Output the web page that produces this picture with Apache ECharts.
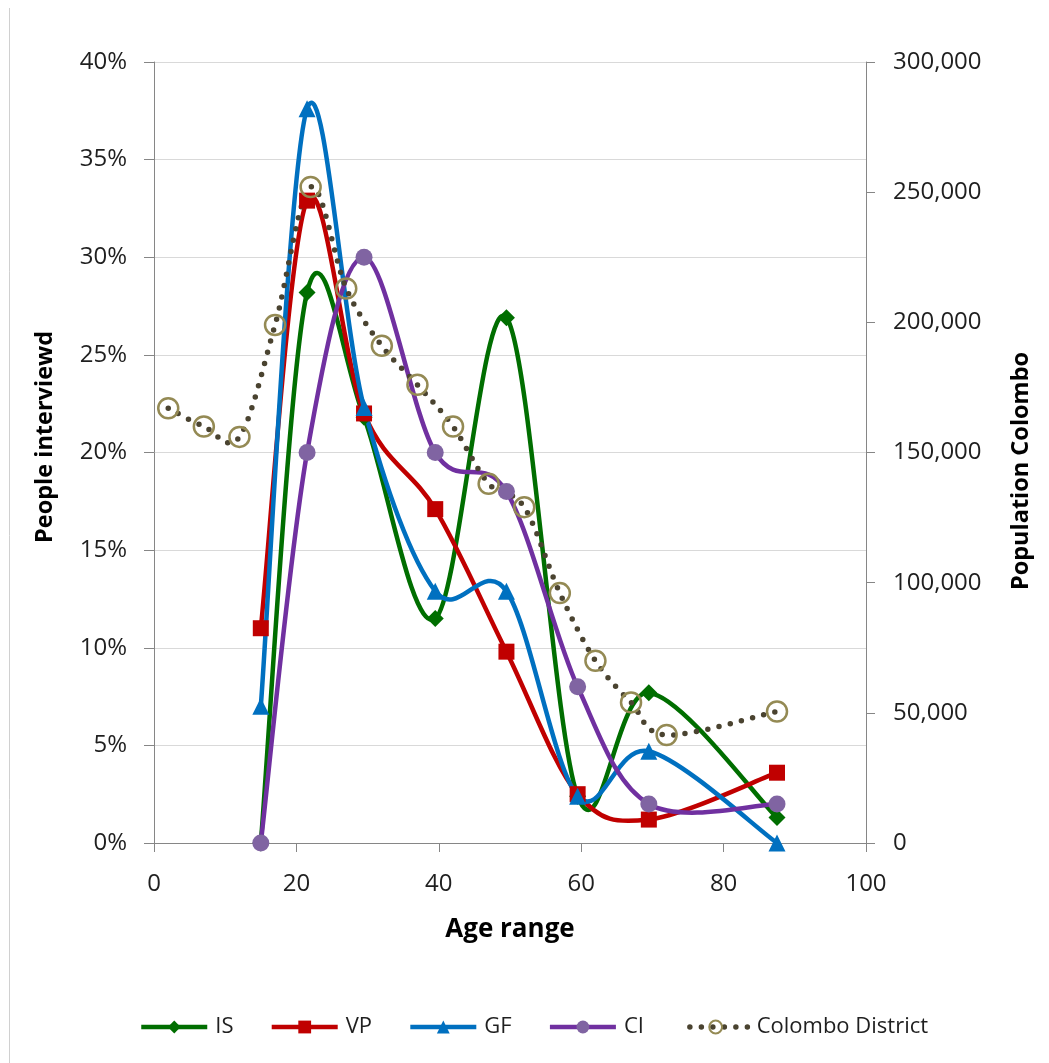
<!DOCTYPE html>
<html>
<head>
<meta charset="utf-8">
<script src="https://cdn.jsdelivr.net/npm/echarts@6/dist/echarts.min.js"></script>
<style>
  html, body { margin: 0; padding: 0; background: #fff; }
  #chart { width: 1049px; height: 1063px; }
</style>
</head>
<body>
<div id="chart"></div>
<script>
// Survey age groups (midpoints) and share of people interviewed, in percent
const surveyAges = [15, 21.5, 29.5, 39.5, 49.5, 59.5, 69.5, 87.5];
const IS = [0, 28.2, 21.8, 11.5, 26.9, 2.4, 7.7, 1.3];
const VP = [11.0, 32.9, 22.0, 17.1, 9.8, 2.5, 1.2, 3.6];
const GF = [7.0, 37.6, 22.3, 12.9, 12.9, 2.4, 4.7, 0];
const CI = [0, 20.0, 30.0, 20.0, 18.0, 8.0, 2.0, 2.0];

// Colombo District population by five-year age band
const districtAges = [2, 7, 12, 17, 22, 27, 32, 37, 42, 47, 52, 57, 62, 67, 72, 87.5];
const colombo = [167000, 160000, 156000, 199000, 252000, 213000, 191000, 176000,
                 160000, 138000, 129000, 96000, 70000, 54000, 41500, 50500];

// Axis tick settings
const xTicks = { min: 0, max: 100, interval: 20 };
const pctTicks = { min: 0, max: 40, interval: 5 };
const popTicks = { min: 0, max: 300000, interval: 50000 };

const FONT = 'Open Sans';
const AXIS_GREY = '#868686';
const LABEL = '#1f1f1f';

function pairs(xs, ys) { return xs.map((x, i) => [x, ys[i]]); }

// Approximate length of a cubic Bezier, used to keep dash phase continuous
function bezierLength(p1, c1, c2, p2) {
  let len = 0, prev = p1;
  for (let k = 1; k <= 24; k++) {
    const t = k / 24, u = 1 - t;
    const x = u*u*u*p1[0] + 3*u*u*t*c1[0] + 3*u*t*t*c2[0] + t*t*t*p2[0];
    const y = u*u*u*p1[1] + 3*u*u*t*c1[1] + 3*u*t*t*c2[1] + t*t*t*p2[1];
    len += Math.hypot(x - prev[0], y - prev[1]);
    prev = [x, y];
  }
  return len;
}

// Smoothed (Catmull-Rom style) curve through the data points, drawn in pixel space
function curveSeries(id, xs, ys, yAxisIndex, lineStyle) {
  return {
    id, type: 'custom', xAxisIndex: 0, yAxisIndex, silent: true,
    data: pairs(xs, ys),
    renderItem(params, api) {
      if (params.dataIndex !== 0) return null;
      const pts = xs.map((x, i) => api.coord([x, ys[i]]));
      const n = pts.length;
      const children = [];
      let offset = 0;
      for (let i = 0; i < n - 1; i++) {
        const p0 = pts[Math.max(i - 1, 0)], p1 = pts[i], p2 = pts[i + 1], p3 = pts[Math.min(i + 2, n - 1)];
        const c1 = [p1[0] + (p2[0] - p0[0]) / 6, p1[1] + (p2[1] - p0[1]) / 6];
        const c2 = [p2[0] - (p3[0] - p1[0]) / 6, p2[1] - (p3[1] - p1[1]) / 6];
        children.push({
          type: 'bezierCurve',
          shape: { x1: p1[0], y1: p1[1], x2: p2[0], y2: p2[1], cpx1: c1[0], cpy1: c1[1], cpx2: c2[0], cpy2: c2[1] },
          style: Object.assign({ fill: 'none', lineDashOffset: offset }, lineStyle)
        });
        offset += bezierLength(p1, c1, c2, p2);
      }
      return { type: 'group', children };
    }
  };
}

// Markers for one series; the connecting curve is drawn by curveSeries
function markerSeries(name, xs, ys, yAxisIndex, lineColor, symbol, size, itemStyle, lineExtra) {
  return {
    name, type: 'line', xAxisIndex: 0, yAxisIndex,
    data: pairs(xs, ys),
    symbol, symbolSize: size, showAllSymbol: true,
    lineStyle: Object.assign({ color: lineColor, width: 0 }, lineExtra || {}),
    itemStyle,
    emphasis: { disabled: true }
  };
}

const solid = (color) => ({ stroke: color, lineWidth: 4.5, lineCap: 'round', lineJoin: 'round' });

const chart = echarts.init(document.getElementById('chart'), null, { renderer: 'canvas' });

chart.setOption({
  animation: false,
  backgroundColor: '#ffffff',
  textStyle: { fontFamily: FONT },
  grid: { left: 154, right: 183, top: 62, bottom: 220, containLabel: false },
  graphic: [{
    type: 'line', silent: true,
    shape: { x1: 9.5, y1: 8, x2: 9.5, y2: 1063 },
    style: { stroke: '#d0d0d0', lineWidth: 1 }
  }, {
    type: 'text', silent: true, x: 45, y: 437, rotation: Math.PI / 2,
    style: { text: 'People interviewd', font: 'bold 23.5px "Open Sans"', fill: '#000', align: 'center', verticalAlign: 'middle' }
  }, {
    type: 'text', silent: true, x: 1021, y: 471, rotation: Math.PI / 2,
    style: { text: 'Population Colombo', font: 'bold 23.5px "Open Sans"', fill: '#000', align: 'center', verticalAlign: 'middle' }
  }],
  legend: {
    bottom: 20, left: 134,
    itemWidth: 66, itemHeight: 16, itemGap: 36,
    textStyle: { fontFamily: FONT, fontSize: 22, color: LABEL, padding: [0, 0, 0, 3] },
    data: [
      { name: 'IS', lineStyle: { width: 4.5 } },
      { name: 'VP', lineStyle: { width: 4.5 } },
      { name: 'GF', lineStyle: { width: 4.5 } },
      { name: 'CI', lineStyle: { width: 4.5 } },
      { name: 'Colombo District', lineStyle: { width: 5.5 } }
    ]
  },
  xAxis: {
    type: 'value', ...xTicks,
    name: 'Age range', nameLocation: 'middle', nameGap: 74,
    nameTextStyle: { fontFamily: FONT, fontSize: 26, fontWeight: 'bold', color: '#000' },
    axisLine: { show: true, lineStyle: { color: AXIS_GREY, width: 1 } },
    axisTick: { show: true, length: 9, lineStyle: { color: AXIS_GREY } },
    axisLabel: { fontFamily: FONT, fontSize: 24, color: LABEL, margin: 29 },
    splitLine: { show: false }
  },
  yAxis: [{
    type: 'value', position: 'left', ...pctTicks,
    axisLine: { show: true, lineStyle: { color: AXIS_GREY, width: 1 } },
    axisTick: { show: true, length: 10, lineStyle: { color: AXIS_GREY } },
    axisLabel: { formatter: '{value}%', fontFamily: FONT, fontSize: 24, color: LABEL, margin: 27 },
    splitLine: { show: true, lineStyle: { color: '#d9d9d9', width: 1 } }
  }, {
    type: 'value', position: 'right', ...popTicks,
    axisLine: { show: true, lineStyle: { color: AXIS_GREY, width: 1 } },
    axisTick: { show: true, length: 9, lineStyle: { color: AXIS_GREY } },
    axisLabel: {
      formatter: v => v.toLocaleString('en-US'),
      fontFamily: FONT, fontSize: 24, color: LABEL, margin: 27
    },
    splitLine: { show: false }
  }],
  series: [
    curveSeries('IS-curve', surveyAges, IS, 0, solid('#006e00')),
    markerSeries('IS', surveyAges, IS, 0, '#006e00', 'diamond', 17, { color: '#006e00' }),
    curveSeries('VP-curve', surveyAges, VP, 0, solid('#c00000')),
    markerSeries('VP', surveyAges, VP, 0, '#c00000', 'rect', 16, { color: '#c00000' }),
    curveSeries('GF-curve', surveyAges, GF, 0, solid('#0070c0')),
    markerSeries('GF', surveyAges, GF, 0, '#0070c0', 'triangle', 17, { color: '#0070c0' }),
    curveSeries('CI-curve', surveyAges, CI, 0, solid('#7030a0')),
    markerSeries('CI', surveyAges, CI, 0, '#7030a0', 'circle', 17, { color: '#8064a2' }),
    curveSeries('Colombo-curve', districtAges, colombo, 1,
      { stroke: '#4a4330', lineWidth: 5.5, lineDash: [0, 11.5], lineCap: 'round' }),
    markerSeries('Colombo District', districtAges, colombo, 1, '#4a4330', 'circle', 20,
      { color: 'rgba(255,255,255,0)', borderColor: '#948a54', borderWidth: 2.5 },
      { type: [0, 11.5], cap: 'round' })
  ]
});
</script>
</body>
</html>
